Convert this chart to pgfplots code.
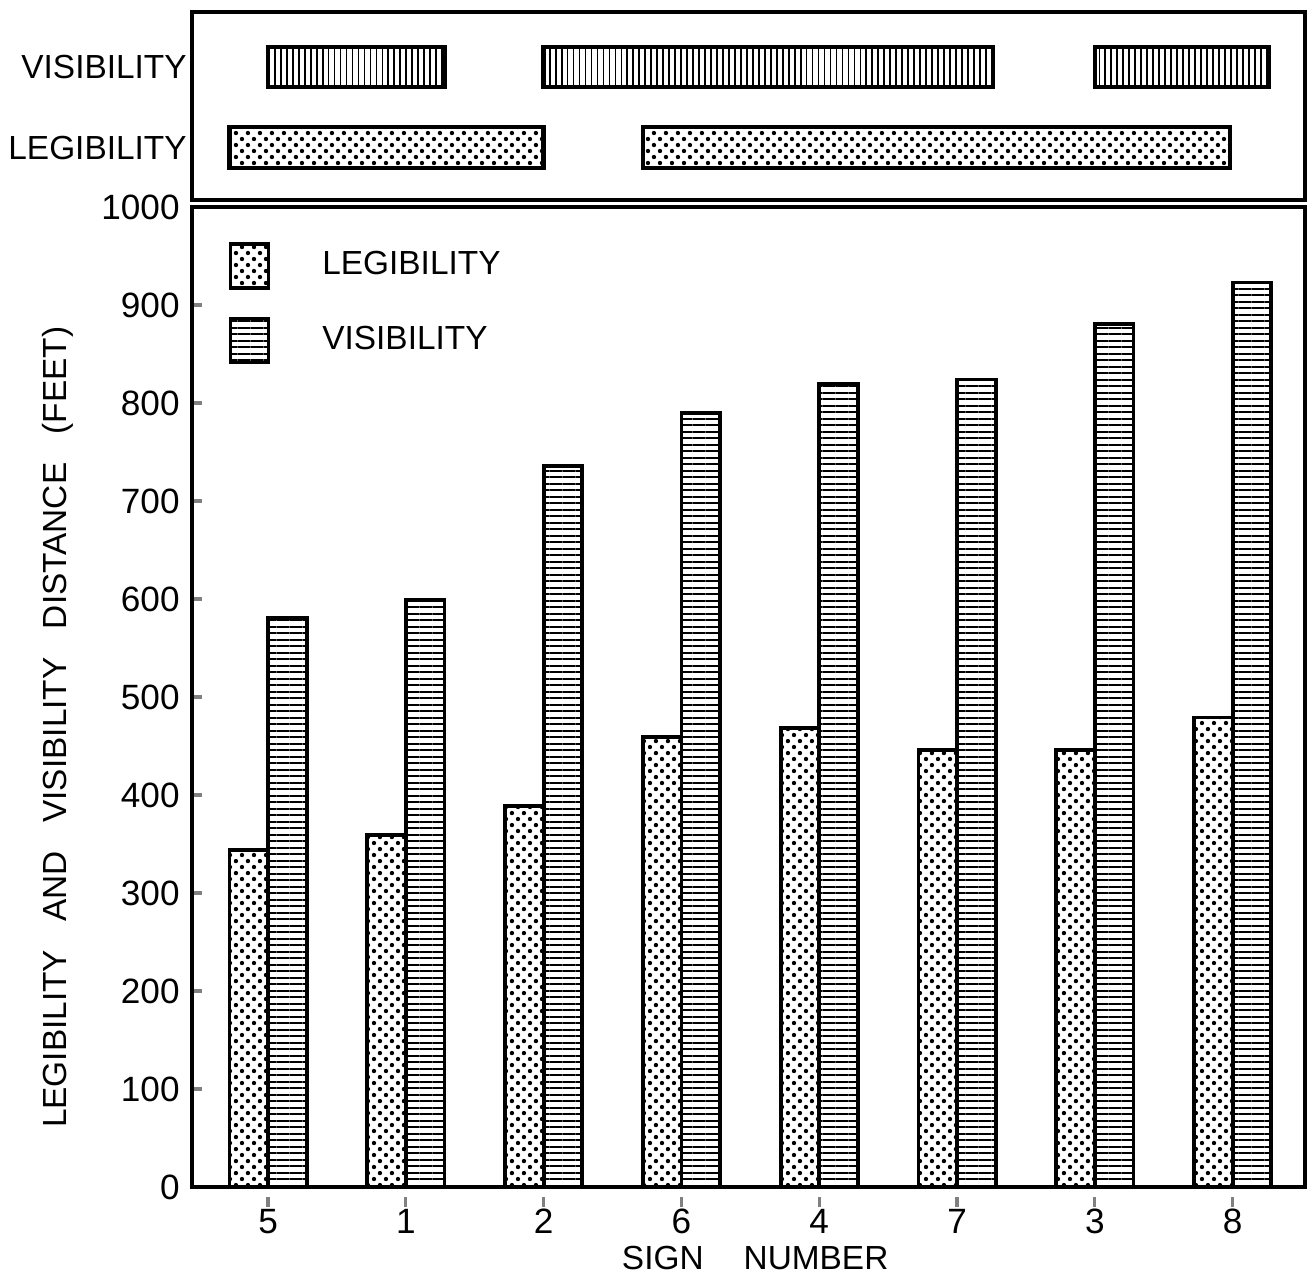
\documentclass[border=0pt]{standalone}
\usepackage{fontspec}
\setmainfont{Liberation Sans}
\usepackage{pgfplots}
\pgfplotsset{compat=1.18}
\usetikzlibrary{patterns,patterns.meta,calc}

\newcommand{\lbl}{\fontsize{9.5}{11}\selectfont}
\newcommand{\tkl}{\fontsize{10}{12}\selectfont}

\tikzdeclarepattern{
  name=bigdots,
  type=uncolored,
  bounding box={(0,0) and (3.4pt,3.4pt)},
  tile size={(3.4pt,3.4pt)},
  code={
    \pgfpathcircle{\pgfpoint{0.85pt}{0.85pt}}{0.62pt}
    \pgfpathcircle{\pgfpoint{2.55pt}{2.55pt}}{0.62pt}
    \pgfusepath{fill}
  }
}

\begin{document}
\begin{tikzpicture}
\pgfplotsset{
  every axis/.append style={
    scale only axis,
    width=11.13cm,
    xmin=-0.552, xmax=7.525,
    font=\lbl,
    tick label style={font=\tkl},
    /pgf/number format/assume math mode=true,
    /pgf/number format/1000 sep={},
    axis line style={line width=0.9pt},
  },
  legbox/.style={legend image code/.code={
      \draw[##1, line width=1pt] (0cm,-0.22cm) rectangle (0.38cm,0.22cm);}},
}

% main chart
\begin{axis}[
    name=main,
    height=9.80cm,
    ymin=0, ymax=1000,
    ytick={0,100,...,1000},
    ytick pos=left,
    xtick={0,...,7},
    xticklabels={5,1,2,6,4,7,3,8},
    xtick pos=bottom,
    major tick length=0.1cm,
    x tick style={line width=0.9pt, yshift=-0.1cm},
    y tick style={line width=0.9pt},
    ybar=0pt,
    bar width=0.28,
    ylabel={LEGIBILITY\hspace{0.85em}AND\hspace{0.85em}VISIBILITY\hspace{0.85em}DISTANCE\hspace{0.85em}(FEET)},
    ylabel style={at={(axis description cs:-0.1204,0.469)}, anchor=center, font=\lbl},
    xlabel={SIGN\hspace{1.2em}NUMBER},
    xlabel style={at={(axis description cs:0.506,-0.072)}, anchor=center, font=\lbl},
    legend style={draw=none, fill=none, at={(axis description cs:0.023,0.972)},
      anchor=north west, row sep=0.27cm, column sep=0.45cm, font=\lbl,
      cells={anchor=west}},
  ]
  \addplot[ybar, draw=black, line width=1.1pt, pattern=bigdots, legbox]
    coordinates {(0,344) (1,359) (2,389) (3,459) (4,468) (5,446) (6,446) (7,479)};
  \addplot[ybar, draw=black, line width=1.1pt,
    pattern={Lines[angle=0,distance=1.85pt,line width=0.55pt]}, legbox]
    coordinates {(0,581) (1,599) (2,736) (3,790) (4,819) (5,824) (6,881) (7,923)};
  \legend{LEGIBILITY, VISIBILITY}
\end{axis}

% groupings panel
\begin{axis}[
    at={($(main.north west)+(0,0.07cm)$)},
    anchor=south west,
    height=1.88cm,
    ymin=0, ymax=1,
    xtick=\empty,
    ytick={0.277,0.707},
    yticklabels={LEGIBILITY,VISIBILITY},
    yticklabel style={font=\lbl, xshift=0.07cm},
    major tick length=0pt,
  ]
  \addplot[draw=black, line width=1.3pt,
    pattern={Lines[angle=90,distance=1.7pt,line width=0.5pt]}]
    coordinates {(0,0.601) (1.28,0.601) (1.28,0.814) (0,0.814)} -- cycle;
  \addplot[draw=black, line width=1.3pt,
    pattern={Lines[angle=90,distance=1.7pt,line width=0.5pt]}]
    coordinates {(2,0.601) (5.26,0.601) (5.26,0.814) (2,0.814)} -- cycle;
  \addplot[draw=black, line width=1.3pt,
    pattern={Lines[angle=90,distance=1.7pt,line width=0.5pt]}]
    coordinates {(6,0.601) (7.26,0.601) (7.26,0.814) (6,0.814)} -- cycle;
  \addplot[draw=black, line width=1.3pt, pattern=bigdots]
    coordinates {(-0.28,0.170) (2,0.170) (2,0.388) (-0.28,0.388)} -- cycle;
  \addplot[draw=black, line width=1.3pt, pattern=bigdots]
    coordinates {(2.72,0.170) (6.98,0.170) (6.98,0.388) (2.72,0.388)} -- cycle;
\end{axis}

\pgfresetboundingbox
\path[use as bounding box] (-1.92cm,-0.90cm) rectangle (11.22cm,11.87cm);
\end{tikzpicture}
\end{document}
